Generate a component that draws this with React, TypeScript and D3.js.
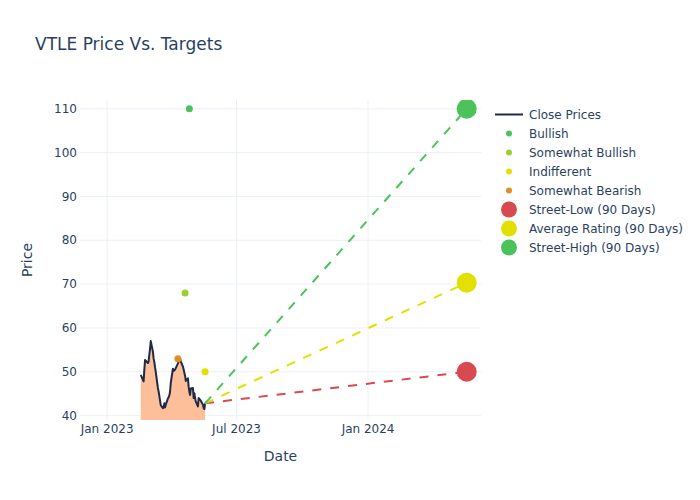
import React from "react";
import * as d3 from "d3";

// close prices (trading days)
const closeDates = [
  "2023-02-17", "2023-02-21", "2023-02-22", "2023-02-23", "2023-02-24", "2023-02-27", "2023-02-28",
  "2023-03-01", "2023-03-02", "2023-03-03", "2023-03-06", "2023-03-07", "2023-03-08", "2023-03-09",
  "2023-03-10", "2023-03-13", "2023-03-14", "2023-03-15", "2023-03-16", "2023-03-17", "2023-03-20",
  "2023-03-21", "2023-03-22", "2023-03-23", "2023-03-24", "2023-03-27", "2023-03-28", "2023-03-29",
  "2023-03-30", "2023-03-31", "2023-04-03", "2023-04-04", "2023-04-05", "2023-04-06", "2023-04-10",
  "2023-04-11", "2023-04-12", "2023-04-13", "2023-04-14", "2023-04-17", "2023-04-18", "2023-04-19",
  "2023-04-20", "2023-04-21", "2023-04-24", "2023-04-25", "2023-04-26", "2023-04-27", "2023-04-28",
  "2023-05-01", "2023-05-02", "2023-05-03", "2023-05-04", "2023-05-05", "2023-05-08", "2023-05-09",
  "2023-05-10", "2023-05-11", "2023-05-12", "2023-05-15", "2023-05-16", "2023-05-17", "2023-05-18",
];
const closeValues = [
  49.3, 47.8, 50.5, 52.7, 52.5, 52.0, 52.3,
  54.0, 55.2, 57.0, 54.6, 53.0, 52.2, 51.0,
  50.0, 46.3, 45.5, 44.5, 43.4, 42.4, 41.7,
  41.8, 42.8, 41.9, 42.5, 43.9, 44.2, 44.6,
  45.5, 47.5, 50.7, 50.2, 50.3, 50.5, 51.9,
  52.3, 52.8, 53.0, 52.4, 51.2, 50.5, 49.8,
  49.1, 47.9, 48.5, 46.6, 45.5, 44.7, 46.2,
  46.3, 44.0, 45.1, 44.0, 43.2, 42.1, 44.0,
  43.8, 43.6, 43.4, 42.5, 41.7, 41.5, 42.8,
];

// analyst ratings
const ratingNames = ["Bullish", "Somewhat Bullish", "Indifferent", "Somewhat Bearish"];
const ratingColors = ["#4cc35a", "#98d232", "#e2e000", "#de8e24"];
const ratingDates = ["2023-04-26", "2023-04-20", "2023-05-18", "2023-04-10"];
const ratingValues = [110, 68, 50, 53];

// 90-day targets
const targetNames = ["Street-Low (90 Days)", "Average Rating (90 Days)", "Street-High (90 Days)"];
const targetColors = ["#d84a50", "#e2e000", "#4cc35a"];
const targetDate = "2024-05-18";
const targetValues = [50, 70.3, 110];

const xTicks = ["2023-01-01", "2023-07-01", "2024-01-01"];
const yTicks = [40, 50, 60, 70, 80, 90, 100, 110];

const W = 700, H = 500;
const L = 80, R = 481, T = 100, B = 420;
const FONT = "'DejaVu Sans', Verdana, sans-serif";
const TXT = "#2a3f5f";
const GRID = "#ebf0f8";

const parse = (s: string) => new Date(s + "T00:00:00Z");

export default function App() {
  const x = d3.scaleUtc().domain([parse("2022-11-24"), parse("2024-06-07")]).range([L, R]);
  const y = d3.scaleLinear().domain([39.0, 112.0]).range([B, T]);

  const pts = closeDates.map((d, i) => ({ d: parse(d), v: closeValues[i] }));
  const line = d3.line<{ d: Date; v: number }>().x(p => x(p.d)).y(p => y(p.v));
  const area = d3.area<{ d: Date; v: number }>().x(p => x(p.d)).y0(B).y1(p => y(p.v));
  const last = pts[pts.length - 1];

  const legendRows = ["Close Prices", ...ratingNames, ...targetNames];

  return (
    <svg width={W} height={H} style={{ position: "absolute", left: 0, top: 0, background: "#fff" }} fontFamily={FONT}>
      <defs>
        <clipPath id="plot">
          <rect x={L} y={T} width={R - L} height={B - T} />
        </clipPath>
      </defs>

      {/* grid */}
      {yTicks.map(t => (
        <line key={"gy" + t} x1={L} x2={R} y1={y(t)} y2={y(t)} stroke={GRID} strokeWidth={1} />
      ))}
      {xTicks.map(t => (
        <line key={"gx" + t} x1={x(parse(t))} x2={x(parse(t))} y1={T} y2={B} stroke={GRID} strokeWidth={1} />
      ))}

      <g clipPath="url(#plot)">
        <path d={area(pts) ?? ""} fill="#fdbe9a" />
        <path d={line(pts) ?? ""} fill="none" stroke="#1e2a47" strokeWidth={2} strokeLinejoin="round" />

        {ratingDates.map((d, i) => (
          <circle key={"r" + i} cx={x(parse(d))} cy={y(ratingValues[i])} r={3.5} fill={ratingColors[i]} />
        ))}

        {targetValues.map((v, i) => (
          <line key={"tl" + i} x1={x(last.d)} y1={y(last.v)} x2={x(parse(targetDate))} y2={y(v)}
            stroke={targetColors[i]} strokeWidth={2} strokeDasharray="9,9" />
        ))}
        {targetValues.map((v, i) => (
          <circle key={"tc" + i} cx={x(parse(targetDate))} cy={y(v)} r={10} fill={targetColors[i]} />
        ))}
      </g>

      {/* axes labels */}
      {yTicks.map(t => (
        <text key={"ty" + t} x={L - 3} y={y(t)} dy="0.35em" textAnchor="end" fontSize={12} fill={TXT}>{t}</text>
      ))}
      {xTicks.map(t => (
        <text key={"tx" + t} x={x(parse(t))} y={433} textAnchor="middle" fontSize={12} fill={TXT}>
          {d3.utcFormat("%b %Y")(parse(t))}
        </text>
      ))}
      <text x={(L + R) / 2} y={461} textAnchor="middle" fontSize={14} fill={TXT}>Date</text>
      <text transform={`translate(32,${(T + B) / 2}) rotate(-90)`} textAnchor="middle" fontSize={14} fill={TXT}>Price</text>

      <text x={35} y={50} fontSize={17} fill={TXT}>VTLE Price Vs. Targets</text>

      {/* legend */}
      {legendRows.map((name, i) => {
        const ly = 114.5 + i * 19;
        let sym;
        if (i === 0) sym = <line x1={495} x2={523} y1={ly} y2={ly} stroke="#1e2a47" strokeWidth={2} />;
        else if (i <= ratingNames.length) sym = <circle cx={509} cy={ly} r={3} fill={ratingColors[i - 1]} />;
        else sym = <circle cx={509} cy={ly} r={8} fill={targetColors[i - 1 - ratingNames.length]} />;
        return (
          <g key={"lg" + i}>
            {sym}
            <text x={529} y={ly} dy="0.35em" fontSize={12} fill={TXT}>{name}</text>
          </g>
        );
      })}
    </svg>
  );
}
